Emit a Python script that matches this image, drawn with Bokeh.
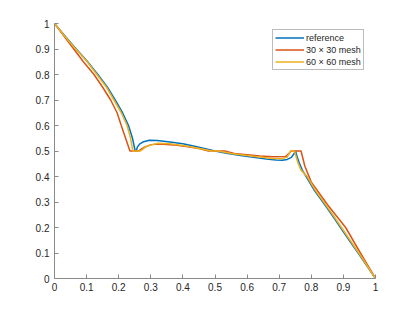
from bokeh.plotting import figure
from bokeh.models import Range1d, FixedTicker, PrintfTickFormatter, Legend, LegendItem
from bokeh.embed import file_html
from bokeh.resources import INLINE

# reference solution
ref_x = [0, 0.03, 0.0676, 0.10, 0.135, 0.165, 0.189, 0.212, 0.2305, 0.243, 0.2514,
         0.255, 0.258, 0.265, 0.275, 0.295, 0.32, 0.36, 0.40, 0.44, 0.47, 0.50, 0.54,
         0.58, 0.62, 0.66, 0.69, 0.71, 0.725, 0.738, 0.745, 0.751, 0.755, 0.762,
         0.772, 0.784, 0.81, 0.836, 0.864, 0.891, 0.918, 0.946, 0.973, 1.0]
ref_y = [1, 0.955, 0.9, 0.855, 0.8, 0.75, 0.7, 0.65, 0.6, 0.55, 0.5,
         0.5, 0.515, 0.527, 0.535, 0.542, 0.541, 0.535, 0.528, 0.518, 0.509, 0.5, 0.49,
         0.482, 0.475, 0.469, 0.465, 0.464, 0.467, 0.475, 0.487, 0.5, 0.48, 0.455,
         0.425, 0.4, 0.345, 0.3, 0.25, 0.2, 0.15, 0.1, 0.05, 0.0]

# 30 x 30 mesh
m30_x = [0, 0.03, 0.06, 0.09, 0.123, 0.15, 0.175, 0.195, 0.208, 0.235, 0.262,
         0.28, 0.301, 0.33, 0.37, 0.41, 0.45, 0.48, 0.53, 0.56, 0.60, 0.64, 0.68,
         0.72, 0.738, 0.768, 0.78, 0.80, 0.85, 0.907, 0.953, 1.0]
m30_y = [1, 0.95, 0.9, 0.85, 0.8, 0.75, 0.7, 0.65, 0.6, 0.5, 0.5,
         0.515, 0.525, 0.527, 0.524, 0.518, 0.51, 0.5, 0.5, 0.49, 0.485, 0.48, 0.477,
         0.478, 0.5, 0.5, 0.44, 0.378, 0.29, 0.2, 0.1, 0.0]

# 60 x 60 mesh
m60_x = [0, 0.03, 0.066, 0.10, 0.132, 0.162, 0.185, 0.208, 0.226, 0.237, 0.244,
         0.268, 0.28, 0.29, 0.32, 0.36, 0.40, 0.44, 0.49, 0.51, 0.55, 0.60, 0.64,
         0.68, 0.71, 0.725, 0.735, 0.748, 0.752, 0.758, 0.768, 0.787, 0.813, 0.839,
         0.867, 0.894, 0.921, 0.948, 0.974, 1.0]
m60_y = [1, 0.953, 0.9, 0.853, 0.8, 0.75, 0.7, 0.65, 0.6, 0.55, 0.5,
         0.5, 0.512, 0.52, 0.53, 0.528, 0.522, 0.513, 0.5, 0.5, 0.49, 0.482, 0.476,
         0.471, 0.47, 0.476, 0.5, 0.5, 0.48, 0.455, 0.425, 0.4, 0.345, 0.3,
         0.25, 0.2, 0.15, 0.1, 0.05, 0.0]

labels = ["reference", "30 \u00d7 30 mesh", "60 \u00d7 60 mesh"]
ticks = [0, 0.1, 0.2, 0.3, 0.4, 0.5, 0.6, 0.7, 0.8, 0.9, 1.0]

p = figure(width=407, height=304, output_backend="svg", toolbar_location=None,
           x_range=Range1d(0, 1), y_range=Range1d(0, 1),
           min_border_left=54, min_border_top=23, min_border_right=32, min_border_bottom=26)
p.frame_width = 321
p.frame_height = 255
p.outline_line_color = None
p.xgrid.visible = False
p.ygrid.visible = False
p.background_fill_color = "white"
p.border_fill_color = "white"

for ax in (p.xaxis[0], p.yaxis[0]):
    ax.ticker = FixedTicker(ticks=ticks)
    ax.formatter = PrintfTickFormatter(format="%g")
    ax.axis_line_color = "#8a8a8a"
    ax.axis_line_width = 1
    ax.major_tick_line_color = "#8a8a8a"
    ax.major_tick_in = 4
    ax.major_tick_out = 0
    ax.minor_tick_line_color = None
    ax.major_label_text_font = "Liberation Sans"
    ax.major_label_text_font_size = "10px"
    ax.major_label_text_color = "#262626"
p.xaxis[0].major_label_standoff = 4
p.yaxis[0].major_label_standoff = 5

r1 = p.line(ref_x, ref_y, line_color="#0072BD", line_width=1.5)
r2 = p.line(m30_x, m30_y, line_color="#D95319", line_width=1.5)
r3 = p.line(m60_x, m60_y, line_color="#EDB120", line_width=1.5)

legend = Legend(items=[LegendItem(label=labels[0], renderers=[r1]),
                       LegendItem(label=labels[1], renderers=[r2]),
                       LegendItem(label=labels[2], renderers=[r3])],
                location=(218, 208))
legend.border_line_color = "#7a7a7a"
legend.border_line_width = 1
legend.background_fill_alpha = 1
legend.label_text_font = "Liberation Sans"
legend.label_text_font_size = "9px"
legend.label_text_color = "#262626"
legend.glyph_width = 29
legend.glyph_height = 11
legend.label_height = 11
legend.label_standoff = 2
legend.spacing = 1
legend.padding = 2
legend.margin = 0
p.add_layout(legend, "center")

open("out.html", "w").write(file_html(p, INLINE))
